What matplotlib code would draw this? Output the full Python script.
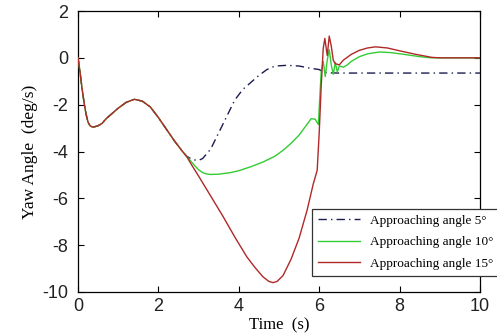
import matplotlib
matplotlib.use("Agg")
import matplotlib.pyplot as plt
import numpy as np

plt.rcParams["axes.unicode_minus"] = False

# common initial segment (all three curves)
t_common = [0.0, 0.05, 0.1, 0.15, 0.2, 0.25, 0.3, 0.35, 0.4, 0.5, 0.6, 0.7, 0.8, 1.0, 1.2, 1.4,
            1.6, 1.8, 2.0, 2.2, 2.4, 2.6, 2.7]
y_common = [0.0, -0.6, -1.3, -1.9, -2.4, -2.75, -2.9, -2.95, -2.95, -2.9, -2.8, -2.6, -2.45,
            -2.15, -1.9, -1.77, -1.85, -2.1, -2.55, -3.05, -3.55, -4.0, -4.2]

t_5 = [2.8, 2.9, 3.0, 3.1, 3.3, 3.5, 3.7, 3.9, 4.1, 4.3, 4.5, 4.7, 4.9, 5.2, 5.5, 5.8, 6.0,
       6.1, 6.2, 6.5, 7.0, 8.0, 9.0, 10.0]
y_5 = [-4.3, -4.36, -4.38, -4.3, -3.9, -3.2, -2.5, -1.8, -1.35, -1.05, -0.75, -0.5, -0.35,
       -0.32, -0.35, -0.45, -0.5, -0.6, -0.64, -0.65, -0.65, -0.65, -0.65, -0.65]

t_10 = [2.8, 2.9, 3.0, 3.1, 3.2, 3.3, 3.5, 3.8, 4.0, 4.3, 4.6, 4.9, 5.1, 5.3, 5.5, 5.65, 5.8,
        5.9, 5.98, 6.02, 6.05, 6.1, 6.15, 6.2, 6.25, 6.3, 6.35, 6.4, 6.45, 6.5, 6.6, 6.7, 6.8,
        7.0, 7.2, 7.5, 7.8, 8.1, 8.5, 8.8, 9.0, 10.0]
y_10 = [-4.4, -4.6, -4.78, -4.9, -4.96, -4.98, -4.97, -4.9, -4.82, -4.65, -4.45, -4.2, -3.95,
        -3.65, -3.3, -2.95, -2.6, -2.62, -2.85, -1.5, -0.6, -0.15, -0.8, -0.1, 0.35, -0.3,
        -0.7, -0.2, -0.6, -0.35, -0.4, -0.3, -0.15, 0.05, 0.17, 0.25, 0.22, 0.15, 0.05, 0.0,
        0.0, 0.0]

t_15 = [2.8, 3.0, 3.3, 3.6, 3.9, 4.2, 4.4, 4.6, 4.75, 4.85, 4.95, 5.1, 5.3, 5.5, 5.7, 5.85,
        5.95, 6.0, 6.05, 6.1, 6.14, 6.2, 6.25, 6.3, 6.35, 6.4, 6.5, 6.6, 6.8, 7.0, 7.2, 7.4,
        7.7, 8.0, 8.4, 8.8, 9.0, 10.0]
y_15 = [-4.5, -5.05, -5.9, -6.75, -7.65, -8.5, -8.95, -9.35, -9.55, -9.6, -9.55, -9.3, -8.6,
        -7.7, -6.5, -5.4, -4.8, -3.2, -1.2, 0.4, 0.83, 0.1, 0.93, 0.5, -0.1, -0.25, -0.3,
        -0.1, 0.15, 0.32, 0.42, 0.47, 0.42, 0.3, 0.15, 0.02, 0.0, 0.0]

labels = ["Approaching angle 5\u00b0", "Approaching angle 10\u00b0", "Approaching angle 15\u00b0"]

fig = plt.figure(figsize=(4.97, 3.36), dpi=100)
ax = fig.add_axes([78/497, (336-292)/336, (480-78)/497, (292-11)/336])

x5 = t_common + t_5; v5 = y_common + y_5
x10 = t_common + t_10; v10 = y_common + y_10
x15 = t_common + t_15; v15 = y_common + y_15

l5, = ax.plot(x5, v5, color="#1c1c50", lw=1.0, ls=(0, (6, 3, 1, 3)), label=labels[0], zorder=2)
l10, = ax.plot(x10, v10, color="#33cc33", lw=1.0, label=labels[1], zorder=3)
l15, = ax.plot(x15, v15, color="#b02828", lw=1.0, label=labels[2], zorder=4)

ax.set_xlim(0, 10)
ax.set_ylim(-10, 2)
ax.set_xticks([0, 2, 4, 6, 8, 10])
ax.set_yticks([-10, -8, -6, -4, -2, 0, 2])
ax.tick_params(direction="in", top=True, right=True, length=4, width=0.8, labelsize=13)
ax.tick_params(axis="y", pad=7)
ax.tick_params(axis="x", pad=4)
for lab in ax.get_xticklabels() + ax.get_yticklabels():
    lab.set_family("Liberation Sans")
    lab.set_color("#222222")
for s in ax.spines.values():
    s.set_linewidth(0.9)

ax.set_xlabel("Time  (s)", family="Liberation Serif", fontsize=12, labelpad=2)
ax.set_ylabel("Yaw Angle  (deg/s)", family="Liberation Serif", fontsize=12.5, labelpad=3)

leg = ax.legend([l5, l10, l15], labels,
                loc="lower left", bbox_to_anchor=(0.565, 0.035), fancybox=False,
                edgecolor="#333333", framealpha=1, prop={"family": "Liberation Serif", "size": 9.5},
                handlelength=3.2, labelspacing=0.7, borderpad=0.45, handletextpad=0.8)
leg.get_frame().set_linewidth(0.9)
leg.set_zorder(10)

fig.savefig("out.png", dpi=100)
